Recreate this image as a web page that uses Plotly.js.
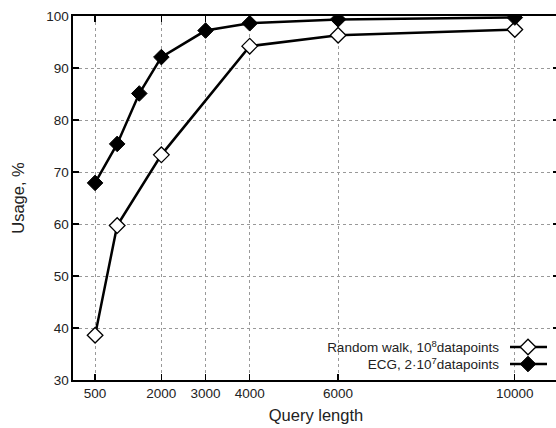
<!DOCTYPE html>
<html>
<head>
<meta charset="utf-8">
<script src="https://cdn.plot.ly/plotly-3.0.1.min.js"></script>
<style>
  html, body { margin: 0; padding: 0; overflow: hidden; background: #fff; }
  #chart { width: 559px; height: 428px; }
</style>
</head>
<body>
<div id="chart"></div>
<script>
// Query lengths and usage (%) for the two datasets
const rwQuery = [500, 1000, 2000, 4000, 6000, 10000];
const rwUsage = [38.6, 59.7, 73.3, 94.2, 96.3, 97.4];

const ecgQuery = [500, 1000, 1500, 2000, 3000, 4000, 6000, 10000];
const ecgUsage = [67.9, 75.4, 85.1, 92.1, 97.2, 98.6, 99.35, 99.7];

const xTicks = [500, 2000, 3000, 4000, 6000, 10000];
const yTicks = [30, 40, 50, 60, 70, 80, 90, 100];

const rwName = 'Random walk, 10<sup>8</sup>datapoints';
const ecgName = 'ECG, 2·10<sup>7</sup>datapoints';

const font = 'Liberation Sans, Arial, sans-serif';

const traces = [
  {
    x: rwQuery, y: rwUsage, name: rwName, type: 'scatter', mode: 'lines+markers',
    line: { color: '#000', width: 2.5 },
    marker: { symbol: 'diamond', size: 12, color: '#fff', line: { color: '#000', width: 1.3 } }
  },
  {
    x: ecgQuery, y: ecgUsage, name: ecgName, type: 'scatter', mode: 'lines+markers',
    line: { color: '#000', width: 2.5 },
    marker: { symbol: 'diamond', size: 12, color: '#000', line: { color: '#000', width: 1 } }
  }
];

const axisCommon = {
  showline: true, linecolor: '#000', linewidth: 1.6, mirror: 'allticks',
  ticks: 'inside', ticklen: 6, tickwidth: 1.3, tickcolor: '#000',
  showgrid: true, gridcolor: '#999', gridwidth: 1, griddash: 'dot',
  zeroline: false, tickangle: 0,
  tickfont: { family: font, size: 13.5, color: '#222' }
};

const layout = {
  width: 559, height: 428,
  margin: { l: 73, r: 0, t: 16, b: 48 },
  paper_bgcolor: '#fff', plot_bgcolor: '#fff',
  showlegend: true,
  legend: {
    x: 1, y: 0.05, xanchor: 'right', yanchor: 'bottom',
    bgcolor: 'rgba(0,0,0,0)', borderwidth: 0,
    font: { family: font, size: 13.5, color: '#222' },
    tracegroupgap: 0
  },
  xaxis: Object.assign({}, axisCommon, {
    range: [0, 11000], tickvals: xTicks, ticktext: xTicks.map(String),
    title: { text: 'Query length', font: { family: font, size: 16.5, color: '#222' }, standoff: 9 }
  }),
  yaxis: Object.assign({}, axisCommon, {
    range: [30, 100], tickvals: yTicks, ticktext: yTicks.map(String),
    title: { text: 'Usage, %', font: { family: font, size: 16.5, color: '#222' }, standoff: 17 }
  })
};

Plotly.newPlot('chart', traces, layout, { displayModeBar: false, staticPlot: true }).then(function (gd) {
  // gnuplot-style key: labels right-aligned, line samples to their right
  const legend = gd.querySelector('.legend');
  if (!legend) return;
  legend.setAttribute('transform', 'translate(508,347)');
  const box = legend.querySelector('.scrollbox');
  if (box) {
    box.setAttribute('transform', 'translate(0,0)');
    box.removeAttribute('clip-path');
  }
  const bg = legend.querySelector('.bg');
  if (bg) bg.style.display = 'none';
  legend.querySelectorAll('.traces').forEach(function (g, i) {
    g.setAttribute('transform', 'translate(0,' + (i * 17) + ')');
    const t = g.querySelector('text.legendtext');
    if (t) {
      t.setAttribute('text-anchor', 'end');
      t.setAttribute('x', '-9');
    }
    const ln = g.querySelector('.legendlines path');
    if (ln) ln.setAttribute('d', 'M2,0h37');
  });
});
</script>
</body>
</html>
